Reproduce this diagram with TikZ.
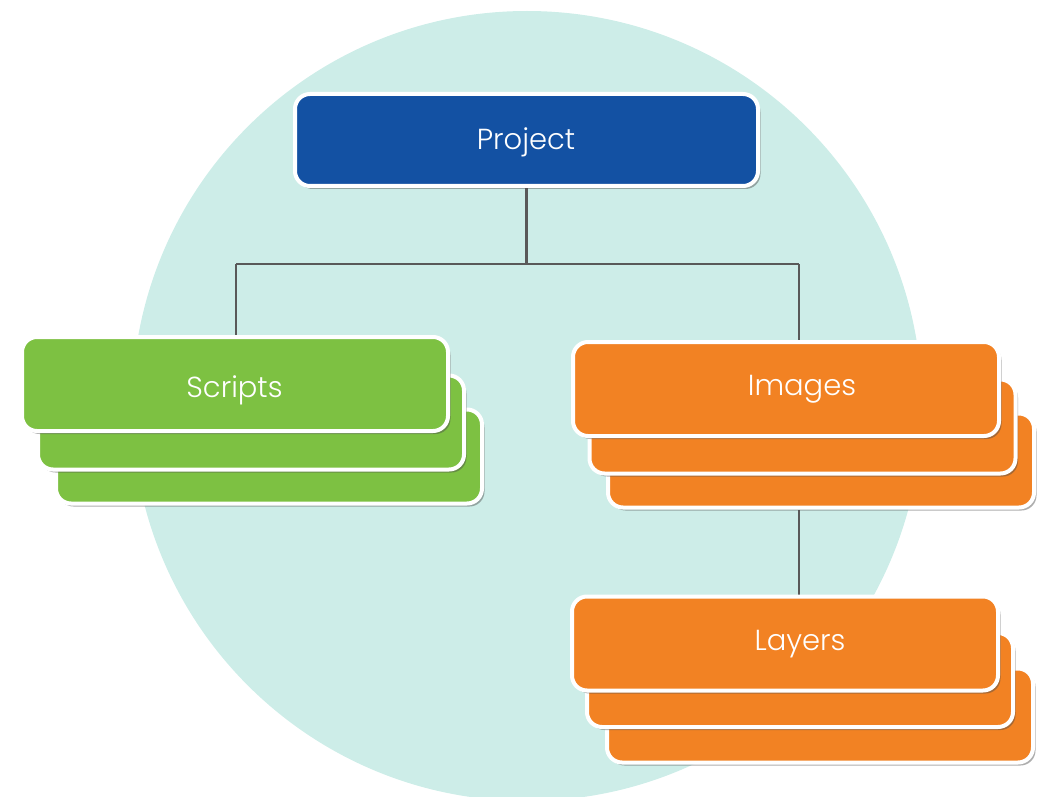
\documentclass[tikz,border=0pt]{standalone}
\usepackage{fontspec}
\setmainfont{Poppins}[UprightFont=* Light]
\usetikzlibrary{shadows}
\definecolor{teal0}{HTML}{CDEDE8}
\definecolor{blue0}{HTML}{1351A3}
\definecolor{green0}{HTML}{7DC142}
\definecolor{orange0}{HTML}{F28223}
\definecolor{conn0}{HTML}{595959}
\pgfdeclarelayer{bglayer}
\pgfdeclarelayer{connlayer}
\pgfsetlayers{bglayer,connlayer,main}
\tikzset{
  boxbase/.style={draw=white, line width=4pt, rounded corners=15pt, inner sep=0pt,
    minimum width=426pt, minimum height=94pt,
    drop shadow={shadow xshift=2.5pt, shadow yshift=-3pt, opacity=0.45, fill=black!70}},
  greenbox/.style={boxbase, fill=green0},
  orangebox/.style={boxbase, fill=orange0},
  bluebox/.style={boxbase, fill=blue0, minimum width=463pt, minimum height=92pt},
  lbl/.style={text=white, font=\fontsize{29}{32}\selectfont, inner sep=0pt, anchor=base},
  conn/.style={draw=conn0, line width=2.4pt},
}
\begin{document}
\begin{tikzpicture}[x=1pt,y=-1pt]
\useasboundingbox (0,0) rectangle (1045,797);
\begin{pgfonlayer}{bglayer}
\clip (0,0) rectangle (1045,797);
\fill[teal0] (527,406) circle (395);
\end{pgfonlayer}
% nodes
\node[bluebox] (project) at (526.5,140) {};
\node[lbl] (projtxt) at (526,150) {Project};
% scripts stack
\node[greenbox] (scripts3) at (269,456.5) {};
\node[greenbox] (scripts2) at (251,422.5) {};
\node[greenbox] (scripts) at (235,384) {};
\node[lbl] (scrtxt) at (234.5,397) {Scripts};
% images stack
\node[orangebox] (images3) at (821,460.5) {};
\node[orangebox] (images2) at (802.5,426.5) {};
\node[orangebox] (images) at (786,389) {};
\node[lbl] (imgtxt) at (802,395) {Images};
% layers stack
\node[orangebox] (layers3) at (820,715.5) {};
\node[orangebox] (layers2) at (800,680) {};
\node[orangebox] (layers) at (785,643.5) {};
\node[lbl] (laytxt) at (800,650) {Layers};
% connectors
\coordinate (jl) at (236,264);
\coordinate (jr) at (799,264);
\begin{pgfonlayer}{connlayer}
\draw[conn] (project.south) -- (project.south |- jl);
\draw[conn] (jl) -- (jr);
\draw[conn] (jl) -- (jl |- scripts.north);
\draw[conn] (jr) -- (jr |- images.north);
\draw[conn] (jr |- images3.south) -- (jr |- layers.north);
\end{pgfonlayer}
\end{tikzpicture}
\end{document}
